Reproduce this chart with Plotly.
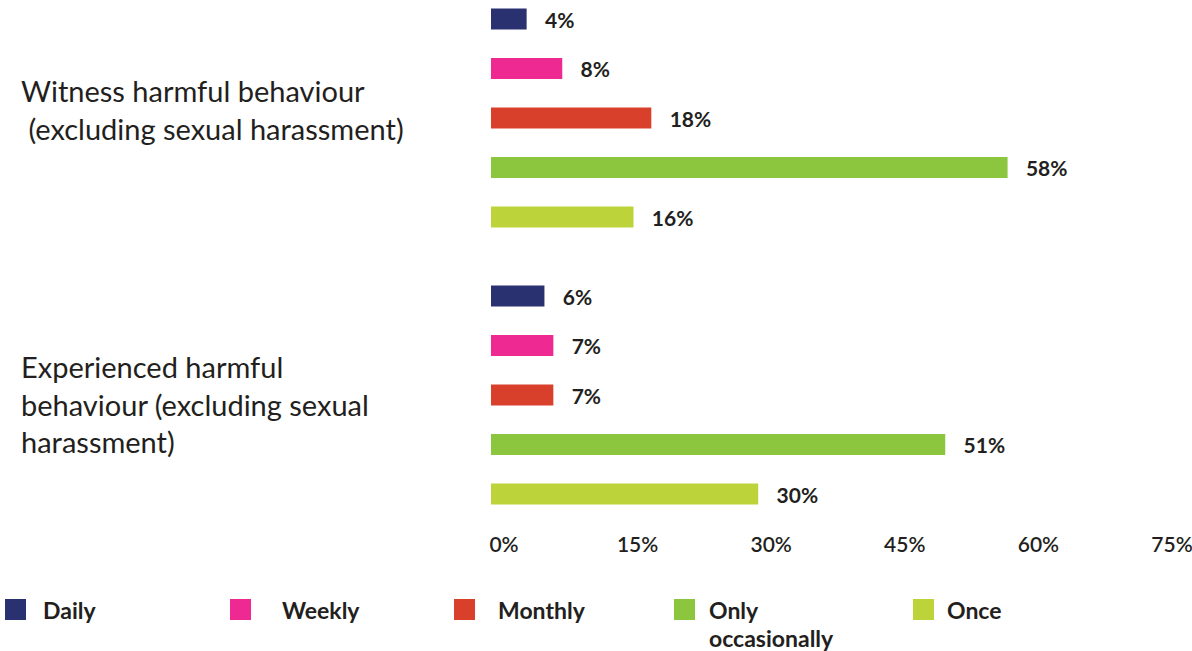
import plotly.graph_objects as go

# Survey groups (top to bottom) and frequency bands
groups = [
    "Witness harmful behaviour",
    "Experienced harmful behaviour",
]
group_labels = [
    "Witness harmful behaviour<br>\u00a0(excluding sexual harassment)",
    "Experienced harmful<br>behaviour (excluding sexual<br>harassment)",
]
frequencies = ["Daily", "Weekly", "Monthly", "Only occasionally", "Once"]
legend_lines = [["Daily"], ["Weekly"], ["Monthly"], ["Only", "occasionally"], ["Once"]]
colors = ["#2a3171", "#ee2a92", "#d9402b", "#8cc63f", "#bdd33a"]

# Share of respondents (%) per frequency, one list per frequency: [witness, experienced]
daily = [4, 6]
weekly = [8, 7]
monthly = [18, 7]
occasionally = [58, 51]
once = [16, 30]
series = [daily, weekly, monthly, occasionally, once]

x_ticks = [0, 15, 30, 45, 60, 75]

W, H = 1192, 651
FONT = "Lato, 'Open Sans', sans-serif"
TXT = "#231f20"

fig = go.Figure()

for name, col, vals in zip(frequencies, colors, series):
    fig.add_trace(go.Bar(
        y=groups,
        x=vals,
        orientation="h",
        name=name,
        marker=dict(color=col, line=dict(width=0)),
        text=[f"\u00a0\u00a0\u00a0{v}%" for v in vals],
        textposition="outside",
        constraintext="none",
        textfont=dict(family=FONT, size=21, color=TXT, weight="bold"),
        cliponaxis=False,
        showlegend=False,
        hoverinfo="skip",
    ))

# category labels, left aligned
shifts = [9, -9]
for g, lab, s in zip(groups, group_labels, shifts):
    fig.add_annotation(
        xref="paper", yref="y", x=19 / W, y=g,
        text=lab, showarrow=False, xanchor="left", yanchor="middle",
        align="left", yshift=s,
        font=dict(family=FONT, size=29, color=TXT),
    )

# key below the axis: swatch + label per frequency
key_sw_x = [5, 230, 454, 674, 913]
key_txt_x = [41, 280, 496, 707, 945]
key_top = 599
key_line_gap = 28
for lines, col, sx, tx in zip(legend_lines, colors, key_sw_x, key_txt_x):
    fig.add_shape(
        type="rect", xref="paper", yref="paper",
        x0=sx / W, x1=(sx + 21) / W,
        y0=(H - key_top) / H, y1=(H - key_top - 21) / H,
        fillcolor=col, line=dict(width=0),
    )
    for i, ln in enumerate(lines):
        fig.add_annotation(
            xref="paper", yref="paper", x=tx / W,
            y=(H - key_top + 5 - i * key_line_gap) / H,
            text=f"<b>{ln}</b>", showarrow=False,
            xanchor="left", yanchor="top", align="left",
            font=dict(family=FONT, size=23, color=TXT),
        )

px_per_unit = 277.0
top_val = -118 / px_per_unit
plot_bottom = 532
bottom_val = top_val + plot_bottom / px_per_unit

fig.update_layout(
    width=W, height=H,
    margin=dict(l=0, r=0, t=0, b=0, autoexpand=False),
    paper_bgcolor="white",
    plot_bgcolor="white",
    barmode="group",
    bargap=0.1065,
    bargroupgap=0.576,
    showlegend=False,
    font=dict(family=FONT, color=TXT),
    xaxis=dict(
        domain=[491 / W, 1159 / W],
        range=[0, 75],
        tickvals=x_ticks,
        ticktext=[f"{t}%" for t in x_ticks],
        showgrid=False, zeroline=False, showline=False,
        ticks="",
        ticklabelshift=13,
        ticklabelstandoff=-2,
        ticklabeloverflow="allow",
        tickfont=dict(family=FONT, size=21, color=TXT, weight=600),
        fixedrange=True,
    ),
    yaxis=dict(
        domain=[(H - plot_bottom) / H, 1],
        range=[bottom_val, top_val],
        showticklabels=False,
        showgrid=False, zeroline=False, showline=False,
        ticks="",
        fixedrange=True,
    ),
)

fig.write_html("out.html")
